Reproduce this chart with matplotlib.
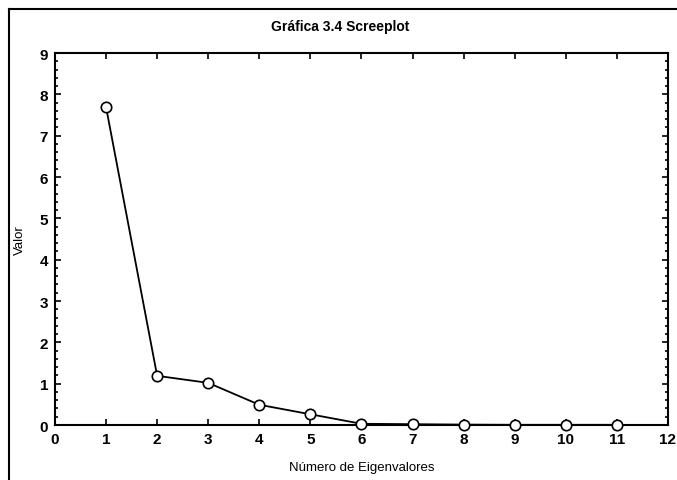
import matplotlib
matplotlib.use('Agg')
import matplotlib.pyplot as plt
from matplotlib.lines import Line2D
from matplotlib.ticker import MultipleLocator

plt.rcParams['font.family'] = ['Liberation Sans Narrow', 'Liberation Sans', 'DejaVu Sans']

# eigenvalores
componentes = [1, 2, 3, 4, 5, 6, 7, 8, 9, 10, 11]
valores = [7.69, 1.19, 1.02, 0.49, 0.26, 0.03, 0.02, 0.01, 0.005, 0.005, 0.005]

fig = plt.figure(figsize=(6.77, 4.81), dpi=100)
ax = fig.add_axes([0.0812, 0.1143, 0.9055, 0.7734])

ax.plot(componentes, valores, color='black', lw=1.3, marker='o', ms=7.5,
        mfc='white', mec='black', mew=1.2, clip_on=False, zorder=3)

ax.set_xlim(0, 12)
ax.set_ylim(0, 9)
ax.xaxis.set_major_locator(MultipleLocator(1))
ax.yaxis.set_major_locator(MultipleLocator(1))
ax.yaxis.set_minor_locator(MultipleLocator(0.2))
ax.tick_params(axis='both', which='both', direction='in', top=True, right=True,
               labelsize=11, width=1.2)
ax.tick_params(axis='both', which='major', length=4, pad=5)
ax.tick_params(axis='both', which='minor', length=2.5)
for lbl in ax.get_xticklabels() + ax.get_yticklabels():
    lbl.set_fontweight('bold')
for s in ax.spines.values():
    s.set_linewidth(1.5)

ax.set_xlabel('Número de Eigenvalores', fontsize=9.5, labelpad=11)
ax.set_ylabel('Valor', fontsize=9.5, labelpad=10)
fig.text(0.502, 0.944, 'Gráfica 3.4 Screeplot', ha='center', va='center',
         fontsize=10, fontweight='bold')

# marco exterior
fig.add_artist(Line2D([0.0135, 0.0135], [0.0, 0.979], color='black', lw=1.5))
fig.add_artist(Line2D([0.0135, 1.0], [0.979, 0.979], color='black', lw=1.5))

fig.savefig('out.png', dpi=100)
